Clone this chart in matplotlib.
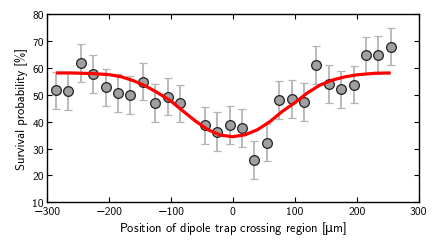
import matplotlib
matplotlib.use("Agg")
import matplotlib.pyplot as plt

plt.rcParams['font.family'] = ['cmss10', 'DejaVu Sans']
plt.rcParams['axes.unicode_minus'] = True
plt.rcParams['mathtext.fontset'] = 'dejavusans'

# measured data
pos = [-285, -265, -245, -225, -205, -185, -165, -145, -125, -105, -85,
       -45, -25, -5, 15, 35, 55, 75, 95, 115, 135, 155, 175, 195, 215, 235, 255]
surv = [51.6, 51.4, 61.7, 57.8, 52.8, 50.7, 49.9, 54.9, 46.9, 49.3, 46.8,
        38.6, 36.3, 38.8, 37.7, 25.7, 32.2, 48.0, 48.5, 47.3, 61.1, 54.1,
        52.0, 53.8, 64.6, 64.8, 67.9]
err = [7.0, 7.0, 7.0, 7.0, 6.9, 7.0, 7.0, 7.0, 7.0, 7.0, 7.0,
       6.9, 7.1, 7.0, 7.0, 7.0, 7.0, 7.0, 7.0, 7.0, 7.0, 7.0,
       7.0, 7.0, 7.0, 7.0, 6.9]

# fit curve
fit_x = [-285, -260, -230, -200, -180, -160, -140, -120, -100, -80, -60, -40, -20,
         0, 20, 40, 60, 80, 100, 120, 140, 160, 180, 200, 230, 255]
fit_y = [58.1, 58.1, 57.9, 57.5, 56.7, 55.2, 53.2, 50.6, 47.7, 43.9, 40.2, 37.0, 35.0,
         34.4, 35.1, 37.0, 40.0, 43.8, 47.0, 50.6, 53.5, 55.4, 56.6, 57.4, 58.0, 58.1]

xticks = [-300, -200, -100, 0, 100, 200, 300]
yticks = [10, 20, 30, 40, 50, 60, 70, 80]

fig = plt.figure(figsize=(4.37, 2.51), dpi=100)
ax = fig.add_axes([0.107, 0.19, 0.851, 0.750])

ax.errorbar(pos, surv, yerr=err, fmt='o', color='#b4b4b4', ecolor='#b4b4b4',
            elinewidth=1.3, capsize=3.2, capthick=1.3,
            markerfacecolor='#a0a0a0', markeredgecolor='#222222',
            markeredgewidth=0.9, markersize=7, zorder=2)
ax.plot(fit_x, fit_y, color='#ff0000', lw=2.3, zorder=3, solid_capstyle='butt')

ax.set_xlim(-300, 300)
ax.set_ylim(10, 80)
ax.set_xticks(xticks)
ax.set_yticks(yticks)
ax.tick_params(direction='in', top=True, right=True, length=3.5, width=0.8,
               labelsize=8.3)
ax.tick_params(axis='x', pad=3)
ax.tick_params(axis='y', pad=2)
for s in ax.spines.values():
    s.set_linewidth(1.0)
ax.set_xlabel(r'Position of dipole trap crossing region [$\mathrm{\mu}$m]',
              fontsize=9, labelpad=2)
ax.set_ylabel('Survival probability [%]', fontsize=9, labelpad=3)

fig.savefig('out.png', dpi=100)
